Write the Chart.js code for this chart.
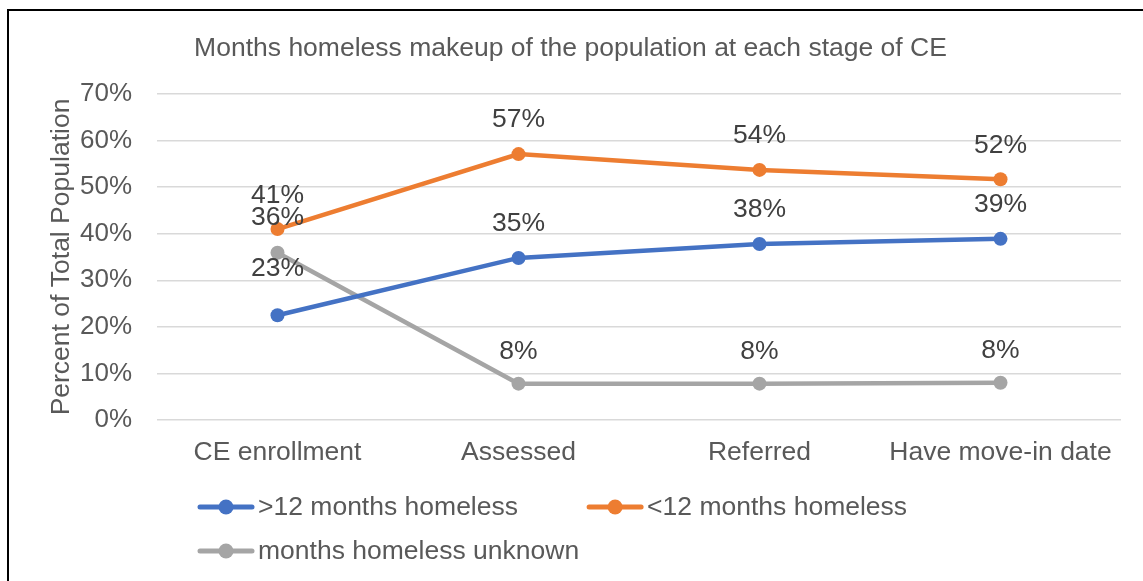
<!DOCTYPE html>
<html>
<head>
<meta charset="utf-8">
<title>Months homeless by CE stage</title>
<script src="https://cdn.jsdelivr.net/npm/chart.js@4"></script>
<style>
  html, body { margin: 0; padding: 0; background: #fff; }
  #wrap { width: 1143px; height: 581px; }
</style>
</head>
<body>
<div id="wrap"><canvas id="stages-chart" width="1143" height="581"></canvas></div>
<script>
// stages of coordinated entry and the share of people in each group (percent)
var stages = ['CE enrollment', 'Assessed', 'Referred', 'Have move-in date'];
var overTwelve = [22.5, 34.8, 37.8, 38.9];
var underTwelve = [41.0, 57.1, 53.7, 51.7];
var unknownMonths = [35.9, 7.8, 7.8, 8.0];
var seriesNames = ['>12 months homeless', '<12 months homeless', 'months homeless unknown'];
var yMax = 70;
var yStep = 10;

var FONT = "'Liberation Sans', Arial, sans-serif";
var FONT_SIZE = 26.5;
var GREY_TEXT = '#595959';

function lineSeries(label, values, color, lift) {
    return {
        label: label,
        data: values,
        borderColor: color,
        backgroundColor: color,
        borderWidth: 4.5,
        pointRadius: 7,
        pointHoverRadius: 7,
        pointBorderWidth: 0,
        tension: 0,
        clip: false,
        labelLift: lift
    };
}

// white page plus the black frame around the chart
var framePlugin = {
    id: 'frame',
    beforeDraw: function (chart) {
        var ctx = chart.ctx;
        ctx.save();
        ctx.fillStyle = '#fff';
        ctx.fillRect(0, 0, chart.width, chart.height);
        ctx.strokeStyle = '#000';
        ctx.lineWidth = 2;
        ctx.strokeRect(8, 10, chart.width + 20, chart.height + 20);
        ctx.restore();
    }
};

// percent labels above each point
var valueLabels = {
    id: 'valueLabels',
    afterDatasetsDraw: function (chart) {
        var ctx = chart.ctx;
        ctx.save();
        ctx.font = FONT_SIZE + 'px ' + FONT;
        ctx.fillStyle = '#404040';
        ctx.textAlign = 'center';
        ctx.textBaseline = 'middle';
        chart.data.datasets.forEach(function (ds, i) {
            var meta = chart.getDatasetMeta(i);
            meta.data.forEach(function (pt, j) {
                var lift = ds.labelLift ? ds.labelLift[j] : 33;
                ctx.fillText(Math.round(ds.data[j]) + '%', pt.x, pt.y - lift);
            });
        });
        ctx.restore();
    }
};

// legend: line-with-marker swatches in a two column grid
var lineLegend = {
    id: 'lineLegend',
    afterDraw: function (chart) {
        var ctx = chart.ctx;
        var sets = chart.data.datasets;
        ctx.save();
        ctx.font = FONT_SIZE + 'px ' + FONT;
        var widest = 0;
        sets.forEach(function (ds) { widest = Math.max(widest, ctx.measureText(ds.label).width); });
        var swatch = 56;
        var colW = swatch + 4 + widest + 8;
        var left = 198, top = 507, rowH = 44;
        sets.forEach(function (ds, i) {
            var x = left + (i % 2) * colW;
            var y = top + Math.floor(i / 2) * rowH;
            ctx.strokeStyle = ds.borderColor;
            ctx.lineWidth = 5;
            ctx.lineCap = 'round';
            ctx.beginPath();
            ctx.moveTo(x + 2, y);
            ctx.lineTo(x + swatch - 2, y);
            ctx.stroke();
            ctx.fillStyle = ds.borderColor;
            ctx.beginPath();
            ctx.arc(x + swatch / 2, y, 7.5, 0, Math.PI * 2);
            ctx.fill();
            ctx.fillStyle = GREY_TEXT;
            ctx.textBaseline = 'middle';
            ctx.textAlign = 'left';
            ctx.fillText(ds.label, x + swatch + 4, y + 1);
        });
        ctx.restore();
    }
};

var ctx = document.getElementById('stages-chart');
var chart = new Chart(ctx, {
    type: 'line',
    data: {
        labels: stages,
        datasets: [
            lineSeries(seriesNames[0], overTwelve, '#4472C4', [47, 34, 34, 34]),
            lineSeries(seriesNames[1], underTwelve, '#ED7D31', [33, 34, 34, 34]),
            lineSeries(seriesNames[2], unknownMonths, '#A5A5A5', [35, 32, 32, 32])
        ]
    },
    options: {
        responsive: false,
        animation: false,
        events: [],
        layout: { padding: { left: 20, right: 22, top: 0, bottom: 101 } },
        plugins: {
            legend: { display: false },
            tooltip: { enabled: false },
            title: {
                display: true,
                text: 'Months homeless makeup of the population at each stage of CE',
                color: GREY_TEXT,
                font: { family: FONT, size: FONT_SIZE, weight: 'normal' },
                padding: { top: 32.5, bottom: 29.7 }
            }
        },
        scales: {
            x: {
                offset: true,
                grid: { display: false, drawTicks: false },
                border: { display: false },
                ticks: { color: GREY_TEXT, font: { family: FONT, size: FONT_SIZE }, padding: 17, maxRotation: 0 },
                afterFit: function (scale) { scale.height = 60; }
            },
            y: {
                min: 0,
                max: yMax,
                grid: { color: '#D9D9D9', lineWidth: 1.5, drawTicks: false },
                border: { display: false },
                ticks: {
                    stepSize: yStep,
                    color: GREY_TEXT,
                    font: { family: FONT, size: 26 },
                    padding: 25,
                    callback: function (v) { return v + '%'; }
                },
                title: {
                    display: true,
                    text: 'Percent of Total Population',
                    color: GREY_TEXT,
                    font: { family: FONT, size: FONT_SIZE },
                    padding: { top: 26, bottom: 0 }
                },
                afterFit: function (scale) { scale.width = 137; }
            }
        }
    },
    plugins: [framePlugin, valueLabels, lineLegend]
});
</script>
</body>
</html>
